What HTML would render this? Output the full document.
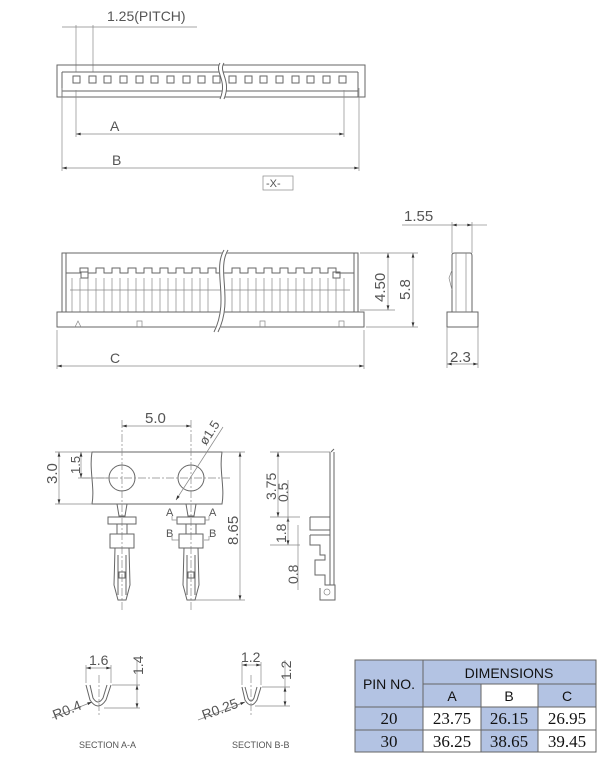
<!DOCTYPE html>
<html><head><meta charset="utf-8"><style>
body{margin:0;background:#fff}
svg{display:block}
text{font-family:"Liberation Sans",sans-serif;fill:#555}
.l{stroke:#666;stroke-width:1;fill:none}
.t{stroke:#888;stroke-width:0.7;fill:none}
.c{stroke:#888;stroke-width:0.7;fill:none;stroke-dasharray:8 2 2 2}
.tb{font-family:"Liberation Serif",serif;fill:#111;font-size:17px}
</style></head><body>
<svg width="600" height="765" viewBox="0 0 600 765" xmlns="http://www.w3.org/2000/svg">
<defs><marker id="a" viewBox="0 0 10 6" refX="10" refY="3" markerWidth="7" markerHeight="4" orient="auto-start-reverse"><path d="M0,0L10,3L0,6z" fill="#333"/></marker></defs>

<!-- TOP VIEW -->
<text x="107" y="21" font-size="14">1.25(PITCH)</text>
<line class="t" x1="62" y1="27" x2="197" y2="27"/>
<line class="t" x1="76" y1="25" x2="76" y2="72"/><line class="t" x1="93" y1="25" x2="93" y2="72"/>
<rect class="l" x="57" y="65" width="308" height="32"/>
<path class="l" d="M62,72H358M62,91H358M62,72V97M358,72V97"/>
<g class="l">
<rect x="73" y="76" width="7" height="7"/><rect x="89" y="76" width="7" height="7"/><rect x="104" y="76" width="7" height="7"/><rect x="120" y="76" width="7" height="7"/><rect x="136" y="76" width="7" height="7"/><rect x="151" y="76" width="7" height="7"/><rect x="167" y="76" width="7" height="7"/><rect x="183" y="76" width="7" height="7"/><rect x="198" y="76" width="7" height="7"/><rect x="213" y="76" width="7" height="7"/>
<rect x="229" y="76" width="7" height="7"/><rect x="245" y="76" width="7" height="7"/><rect x="260" y="76" width="7" height="7"/><rect x="276" y="76" width="7" height="7"/><rect x="292" y="76" width="7" height="7"/><rect x="307" y="76" width="7" height="7"/><rect x="323" y="76" width="7" height="7"/><rect x="339" y="76" width="7" height="7"/>
</g>
<path d="M222,63C216,72 230,80 222,99" stroke="#fff" stroke-width="4" fill="none"/>
<path class="l" d="M220,63C214,72 228,80 220,99M224,63C218,72 232,80 224,99"/>
<line class="t" x1="76" y1="90" x2="76" y2="137"/><line class="t" x1="344" y1="90" x2="344" y2="137"/>
<line class="t" x1="76" y1="134" x2="344" y2="134" marker-start="url(#a)" marker-end="url(#a)"/>
<text x="110" y="131" font-size="14">A</text>
<line class="t" x1="62" y1="88" x2="62" y2="171"/><line class="t" x1="359" y1="88" x2="359" y2="171"/>
<line class="t" x1="62" y1="168" x2="359" y2="168" marker-start="url(#a)" marker-end="url(#a)"/>
<text x="112" y="165" font-size="14">B</text>
<rect class="t" x="263" y="176" width="30" height="14"/>
<text x="266" y="187" font-size="11">-X-</text>

<!-- FRONT VIEW -->
<path class="l" d="M62,312V253H358V312"/><line class="l" x1="66" y1="253" x2="66" y2="312"/><line class="l" x1="354" y1="253" x2="354" y2="312"/>
<path class="l" d="M66,273H80V268H88V273H96V268H104V273H112V268H120V273H128V268H136V273H144V268H152V273H160V268H168V273H176V268H184V273H192V268H200V273H208V268H216V273H232V268H240V273H248V268H256V273H264V268H272V273H280V268H288V273H296V268H304V273H312V268H320V273H328V268H336V273H354"/>
<path class="t" d="M70,290H350M72,278V312M80,278V312M88,278V312M96,278V312M104,278V312M112,278V312M120,278V312M128,278V312M136,278V312M144,278V312M152,278V312M160,278V312M168,278V312M176,278V312M184,278V312M192,278V312M200,278V312M208,278V312M232,278V312M240,278V312M248,278V312M256,278V312M264,278V312M272,278V312M280,278V312M288,278V312M296,278V312M304,278V312M312,278V312M320,278V312M328,278V312M336,278V312M344,278V312"/>
<rect class="l" x="81" y="272" width="7" height="6"/><rect class="l" x="333" y="272" width="7" height="6"/>
<rect class="l" x="57" y="312" width="307" height="15"/>
<path class="t" d="M75,327L78,321L81,327M137,327V321H142V327M260,327V321H265V327M339,327V321H344V327"/>
<path d="M226,250C214,270 232,300 216,332" stroke="#fff" stroke-width="5" fill="none"/>
<path class="l" d="M224,250C212,270 230,300 214,332M228,250C216,270 234,300 218,332"/>
<line class="t" x1="360" y1="253" x2="418" y2="253"/><line class="t" x1="360" y1="310" x2="395" y2="310"/><line class="t" x1="366" y1="327" x2="418" y2="327"/>
<line class="t" x1="388" y1="253" x2="388" y2="310" marker-start="url(#a)" marker-end="url(#a)"/>
<line class="t" x1="413" y1="253" x2="413" y2="327" marker-start="url(#a)" marker-end="url(#a)"/>
<text transform="translate(385,302) rotate(-90)" font-size="15">4.50</text>
<text transform="translate(410,300) rotate(-90)" font-size="15">5.8</text>
<line class="t" x1="57" y1="330" x2="57" y2="369"/><line class="t" x1="364" y1="330" x2="364" y2="369"/>
<line class="t" x1="57" y1="366" x2="364" y2="366" marker-start="url(#a)" marker-end="url(#a)"/>
<text x="110" y="363" font-size="14">C</text>
<!-- side -->
<path class="l" d="M452,312V255Q452,253 455,253H470Q472,253 472,256V312M447,312H478V327H447Z"/>
<path class="t" d="M456,253V312M466,253V312M452,270L449,278L452,290"/>
<line class="t" x1="402" y1="225" x2="452" y2="225"/>
<line class="t" x1="452" y1="225" x2="472" y2="225" marker-start="url(#a)" marker-end="url(#a)"/>
<line class="t" x1="472" y1="225" x2="487" y2="225"/>
<line class="t" x1="452" y1="222" x2="452" y2="253"/><line class="t" x1="472" y1="222" x2="472" y2="253"/>
<text x="404" y="221" font-size="15">1.55</text>
<line class="t" x1="447" y1="327" x2="447" y2="368"/><line class="t" x1="478" y1="327" x2="478" y2="368"/>
<line class="t" x1="447" y1="364" x2="478" y2="364" marker-start="url(#a)" marker-end="url(#a)"/>
<text x="450" y="362" font-size="15">2.3</text>

<!-- TERMINAL STRIP -->
<path class="l" d="M92,452H222C219,470 225,488 222,504H92C95,488 89,470 92,452Z"/>
<circle class="l" cx="122" cy="478" r="13"/><circle class="l" cx="191" cy="478" r="13"/>
<line class="c" x1="82" y1="478" x2="230" y2="478"/>
<line class="c" x1="122" y1="420" x2="122" y2="610"/><line class="c" x1="191" y1="420" x2="191" y2="610"/>
<line class="t" x1="122" y1="426" x2="191" y2="426" marker-start="url(#a)" marker-end="url(#a)"/>
<text x="145" y="423" font-size="15">5.0</text>
<line class="t" x1="176" y1="500" x2="223" y2="427" marker-start="url(#a)"/>
<text transform="translate(206,446) rotate(-57)" font-size="13">ø1.5</text>
<line class="t" x1="55" y1="452" x2="92" y2="452"/><line class="t" x1="55" y1="504" x2="92" y2="504"/><line class="t" x1="78" y1="478" x2="110" y2="478"/>
<line class="t" x1="59" y1="452" x2="59" y2="504" marker-start="url(#a)" marker-end="url(#a)"/>
<line class="t" x1="81" y1="452" x2="81" y2="478" marker-start="url(#a)" marker-end="url(#a)"/>
<text transform="translate(57,484) rotate(-90)" font-size="15">3.0</text>
<text transform="translate(80,474) rotate(-90)" font-size="13">1.5</text>
<line class="t" x1="222" y1="452" x2="245" y2="452"/><line class="t" x1="195" y1="600" x2="245" y2="600"/>
<line class="t" x1="240" y1="452" x2="240" y2="600" marker-start="url(#a)" marker-end="url(#a)"/>
<text transform="translate(238,545) rotate(-90)" font-size="15">8.65</text>
<g id="term" class="l">
<path d="M117,504L119,516H125L127,504"/>
<rect x="108" y="517" width="28" height="7"/>
<path d="M117,524V534M127,524V534"/>
<rect x="110" y="534" width="24" height="14"/>
<path d="M115,548L114,585L118,600H126L130,585L129,548M118,555V595M126,555V595"/>
<rect x="119" y="572" width="6" height="6"/>
</g>
<use href="#term" x="69"/>
<text x="166" y="516" font-size="11">A</text><text x="209" y="516" font-size="11">A</text>
<text x="166" y="537" font-size="11">B</text><text x="209" y="537" font-size="11">B</text>
<path class="t" d="M172,516V520H177M209,516V520H205M172,536V540H179M209,536V540H204"/>
<!-- side terminal -->
<path class="l" d="M330,452V585M334,452V585M331,452L334,449"/>
<path class="l" d="M310,517H330M310,517V530H330M310,535H330M310,535V545H320V555H325V560H315V575H325V585H335V600H320V588"/>
<circle class="t" cx="327" cy="592" r="3"/>
<line class="t" x1="270" y1="452" x2="330" y2="452"/><line class="t" x1="270" y1="517" x2="300" y2="517"/><line class="t" x1="270" y1="545" x2="300" y2="545"/>
<line class="t" x1="278" y1="452" x2="278" y2="517" marker-start="url(#a)" marker-end="url(#a)"/>
<line class="t" x1="288" y1="517" x2="288" y2="545" marker-start="url(#a)" marker-end="url(#a)"/>
<line class="t" x1="288" y1="480" x2="288" y2="530"/><line class="t" x1="298" y1="525" x2="298" y2="590"/>
<text transform="translate(276,500) rotate(-90)" font-size="14">3.75</text>
<text transform="translate(288,502) rotate(-90)" font-size="14">0.5</text>
<text transform="translate(286,543) rotate(-90)" font-size="14">1.8</text>
<text transform="translate(298,584) rotate(-90)" font-size="14">0.8</text>

<!-- SECTIONS -->
<path class="l" d="M86,685L90,700Q98,712 106,700L111,685M90,685L93,698Q98,706 103,698L107,685"/>
<line class="c" x1="99" y1="675" x2="99" y2="715"/>
<line class="t" x1="86" y1="668" x2="111" y2="668" marker-start="url(#a)" marker-end="url(#a)"/>
<line class="t" x1="86" y1="665" x2="86" y2="683"/><line class="t" x1="111" y1="665" x2="111" y2="683"/>
<text x="89" y="665" font-size="14">1.6</text>
<line class="t" x1="112" y1="685" x2="140" y2="685"/><line class="t" x1="104" y1="708" x2="140" y2="708"/>
<line class="t" x1="137" y1="685" x2="137" y2="708" marker-start="url(#a)" marker-end="url(#a)"/>
<line class="t" x1="137" y1="660" x2="137" y2="685"/>
<text transform="translate(143,675) rotate(-90)" font-size="14">1.4</text>
<line class="t" x1="52" y1="718" x2="92" y2="702" marker-end="url(#a)"/>
<text transform="translate(55,720) rotate(-22)" font-size="14">R0.4</text>
<text x="79" y="748" font-size="9">SECTION  A-A</text>

<path class="l" d="M242,687L245,700Q251,710 257,700L261,687M245,687L248,698Q251,704 254,698L257,687"/>
<line class="c" x1="251" y1="675" x2="251" y2="715"/>
<line class="t" x1="242" y1="665" x2="261" y2="665" marker-start="url(#a)" marker-end="url(#a)"/>
<line class="t" x1="242" y1="662" x2="242" y2="685"/><line class="t" x1="261" y1="662" x2="261" y2="685"/>
<text x="241" y="662" font-size="14">1.2</text>
<line class="t" x1="262" y1="687" x2="290" y2="687"/><line class="t" x1="255" y1="706" x2="290" y2="706"/>
<line class="t" x1="285" y1="687" x2="285" y2="706" marker-start="url(#a)" marker-end="url(#a)"/>
<line class="t" x1="285" y1="660" x2="285" y2="687"/>
<text transform="translate(291,680) rotate(-90)" font-size="14">1.2</text>
<line class="t" x1="198" y1="720" x2="245" y2="702" marker-end="url(#a)"/>
<text transform="translate(204,720) rotate(-20)" font-size="14">R0.25</text>
<text x="232" y="748" font-size="9">SECTION  B-B</text>

<!-- TABLE -->
<g stroke="#666" stroke-width="1">
<rect x="355" y="660" width="68" height="47" fill="#b3c3e3"/>
<rect x="423" y="660" width="173" height="24" fill="#b3c3e3"/>
<rect x="423" y="684" width="58" height="23" fill="#b3c3e3"/>
<rect x="481" y="684" width="57" height="23" fill="#fff"/>
<rect x="538" y="684" width="58" height="23" fill="#b3c3e3"/>
<rect x="355" y="707" width="68" height="23" fill="#b3c3e3"/>
<rect x="423" y="707" width="58" height="23" fill="#fff"/>
<rect x="481" y="707" width="57" height="23" fill="#b3c3e3"/>
<rect x="538" y="707" width="58" height="23" fill="#fff"/>
<rect x="355" y="730" width="68" height="22" fill="#b3c3e3"/>
<rect x="423" y="730" width="58" height="22" fill="#fff"/>
<rect x="481" y="730" width="57" height="22" fill="#b3c3e3"/>
<rect x="538" y="730" width="58" height="22" fill="#fff"/>
</g>
<g font-size="14" text-anchor="middle">
<text x="389" y="689" style="fill:#111">PIN NO.</text>
<text x="509" y="678" style="fill:#111">DIMENSIONS</text>
<text x="452" y="701" style="fill:#111">A</text><text x="509" y="701" style="fill:#111">B</text><text x="567" y="701" style="fill:#111">C</text>
</g>
<g text-anchor="middle">
<text class="tb" x="389" y="724">20</text><text class="tb" x="452" y="724">23.75</text><text class="tb" x="509" y="724">26.15</text><text class="tb" x="567" y="724">26.95</text>
<text class="tb" x="389" y="747">30</text><text class="tb" x="452" y="747">36.25</text><text class="tb" x="509" y="747">38.65</text><text class="tb" x="567" y="747">39.45</text>
</g>
</svg>
</body></html>
